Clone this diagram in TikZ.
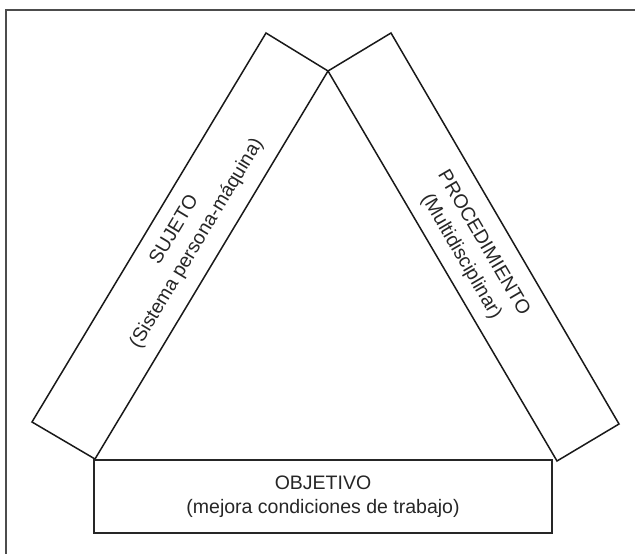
\documentclass[tikz,border=0pt]{standalone}
\usepackage{fontspec}
\setmainfont{Liberation Sans}
\begin{document}
\begin{tikzpicture}[x=1bp,y=-1bp,
  band/.style={draw=black!90, line width=1.5bp, line join=miter},
  bandtext/.style={font=\fontsize{19.5bp}{26bp}\selectfont, align=center, inner sep=0pt, text=black!85},
  goalbox/.style={draw=black!85, line width=2bp, minimum width=458bp, minimum height=73bp,
    inner sep=0pt, font=\fontsize{19.5bp}{24bp}\selectfont, align=center, text=black!85},
  frameline/.style={draw=black!70, line width=1.5bp}]
\useasboundingbox (0,0) rectangle (635,554);
% outer frame (left and top edges)
\coordinate (fb) at (6,554);
\coordinate (fc) at (6,10);
\coordinate (fr) at (635,10);
\draw[frameline] (fb) -- (fc) -- (fr);
% corners of the two slanted bands
\coordinate (apex) at (328,71);
\coordinate (lt) at (266,33);
\coordinate (lo) at (32,422);
\coordinate (lb) at (95,459);
\coordinate (rt) at (391,33);
\coordinate (ro) at (619,424);
\coordinate (rb) at (557,461);
% left band: subject
\draw[band] (lt) -- (apex) -- (lb) -- (lo) -- cycle;
% right band: procedure
\draw[band] (apex) -- (rt) -- (ro) -- (rb) -- cycle;
% band labels
\node[bandtext, rotate=59] (sujeto) at (186,237) {SUJETO\\(Sistema persona-máquina)};
\node[bandtext, rotate=-59.7] (proc) at (472,250) {PROCEDIMIENTO\\(Multidisciplinar)};
% bottom box: objective
\node[goalbox] (obj) at (323,496.5) {OBJETIVO\\(mejora condiciones de trabajo)};
\end{tikzpicture}
\end{document}
